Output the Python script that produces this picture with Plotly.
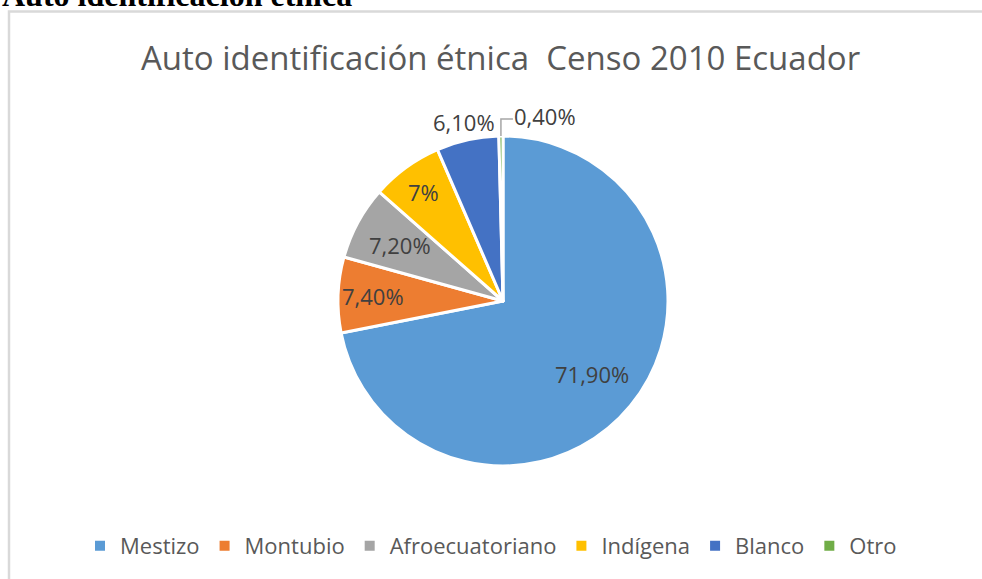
import math
import plotly.graph_objects as go

# ---- data ----
categories = ["Mestizo", "Montubio", "Afroecuatoriano", "Indígena", "Blanco", "Otro"]
values = [71.9, 7.4, 7.2, 7.0, 6.1, 0.4]
value_labels = ["71,90%", "7,40%", "7,20%", "7%", "6,10%", "0,40%"]
colors = ["#5B9BD5", "#ED7D31", "#A5A5A5", "#FFC000", "#4472C4", "#70AD47"]
title_text = "Auto identificación étnica  Censo 2010 Ecuador"
heading_text = "Auto identificación étnica"

# ---- geometry (styles) ----
W, H = 982, 579
CX, CY, R = 503, 301, 165
label_radius = [0.70, 0.79, 0.71, 0.82, 1.11]
FONT = "Open Sans, Carlito, sans-serif"

fig = go.Figure(go.Pie(
    labels=categories, values=values, sort=False, direction="clockwise", rotation=0,
    marker=dict(colors=colors, line=dict(color="white", width=3)),
    textinfo="none", hoverinfo="label+percent",
    domain=dict(x=[(CX - R) / W, (CX + R) / W], y=[1 - (CY + R) / H, 1 - (CY - R) / H]),
))

annotations = []
total = sum(values)
cum = 0.0
label_font = dict(family=FONT, size=22, color="#404040")
for i, v in enumerate(values):
    mid = (cum + v / 2) / total * 2 * math.pi
    cum += v
    if i < len(label_radius):
        f = label_radius[i]
        px = CX + R * f * math.sin(mid)
        py = CY - R * f * math.cos(mid)
        annotations.append(dict(x=px / W, y=1 - py / H, xref="paper", yref="paper",
                                text=value_labels[i], showarrow=False, font=label_font,
                                xanchor="center", yanchor="middle"))
    else:
        # small slice: leader line and label outside
        ex = CX + R * math.sin(mid)
        ey = CY - R * math.cos(mid)
        top = ey - 17
        fig.add_shape(type="path", xref="paper", yref="paper",
                      path=f"M {ex / W} {1 - ey / H} L {ex / W} {1 - top / H} L {(ex + 12) / W} {1 - top / H}",
                      line=dict(color="#A6A6A6", width=1.5))
        annotations.append(dict(x=(ex + 11) / W, y=1 - (top - 3) / H, xref="paper", yref="paper",
                                text=value_labels[i], showarrow=False, font=label_font,
                                xanchor="left", yanchor="middle"))

# title
annotations.append(dict(x=500.5 / W, y=1 - 57 / H, xref="paper", yref="paper", text=title_text,
                        showarrow=False, xanchor="center", yanchor="middle",
                        font=dict(family=FONT, size=33, color="#595959")))
# cut-off heading above the chart box
annotations.append(dict(x=0, y=1, xref="paper", yref="paper", text="<b>" + heading_text + "</b>",
                        showarrow=False, xanchor="left", yanchor="bottom", yshift=-15,
                        font=dict(family="Liberation Serif, Times New Roman, serif", size=32, color="black")))

# chart border
fig.add_shape(type="rect", xref="paper", yref="paper", x0=9 / W, x1=1.02, y0=-0.05, y1=1 - 11.5 / H,
              line=dict(color="#D9D9D9", width=2.5), fillcolor="rgba(0,0,0,0)", layer="below")

fig.update_layout(
    width=W, height=H, margin=dict(l=0, r=0, t=0, b=0),
    paper_bgcolor="white", plot_bgcolor="white",
    annotations=annotations,
    showlegend=True,
    legend=dict(orientation="h", x=0.5, xanchor="center", y=1 - 546 / H, yanchor="middle",
                font=dict(family=FONT, size=22, color="#595959"),
                itemsizing="constant", traceorder="normal"),
)

fig.write_html("out.html", config={"displayModeBar": False},
               post_script="document.body.style.margin='0';document.body.style.overflow='hidden';")
